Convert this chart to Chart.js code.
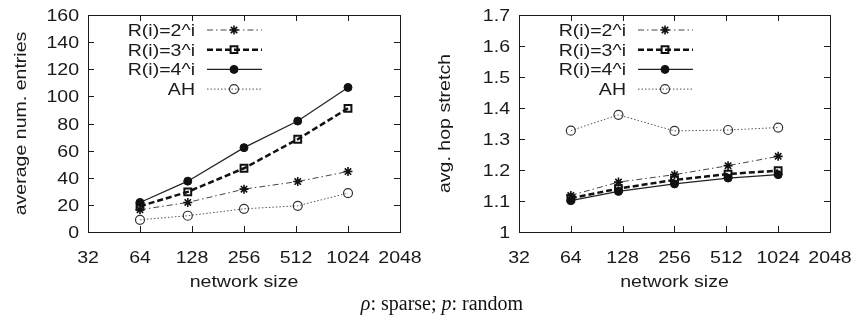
<!DOCTYPE html>
<html>
<head>
<meta charset="utf-8">
<script src="https://cdn.jsdelivr.net/npm/chart.js@4.4.1/dist/chart.umd.min.js"></script>
<style>
    body { margin: 0; background: #fff; width: 856px; height: 325px; position: relative; overflow: hidden; }
    .box { position: absolute; top: 0; width: 428px; height: 300px; }
    #caption { position: absolute; top: 292px; left: 0; width: 884px; text-align: center;
               font: 20px "Liberation Serif", serif; color: #111; }
</style>
</head>
<body>
<div class="box" style="left:0"><canvas id="leftChart" width="428" height="300"></canvas></div>
<div class="box" style="left:428px"><canvas id="rightChart" width="428" height="300"></canvas></div>
<div id="caption"><i>ρ</i>: sparse; <i>p</i>: random</div>

<script>
// =======================================================
// DATA
// =======================================================
const sizes = [64, 121, 256, 524, 1024];
const xTickLabels = ["32", "64", "128", "256", "512", "1024", "2048"];
const seriesLabels = ["R(i)=2^i", "R(i)=3^i", "R(i)=4^i", "AH"];

const entries2 = [16.4, 21.8, 31.6, 37.2, 44.6];
const entries3 = [19.0, 29.6, 47.0, 68.4, 91.2];
const entries4 = [21.8, 37.5, 62.2, 81.8, 106.6];
const entriesAH = [9.0, 12.0, 17.1, 19.3, 28.7];
const entriesTicks = ["0", "20", "40", "60", "80", "100", "120", "140", "160"];

const stretch2 = [1.118, 1.161, 1.185, 1.214, 1.244];
const stretch3 = [1.109, 1.140, 1.168, 1.187, 1.198];
const stretch4 = [1.101, 1.131, 1.155, 1.174, 1.185];
const stretchAH = [1.327, 1.378, 1.326, 1.329, 1.337];
const stretchTicks = ["1", "1.1", "1.2", "1.3", "1.4", "1.5", "1.6", "1.7"];

const FONT = '17px "Liberation Sans", Arial, sans-serif';
const TEXT_STRETCH = 1.15;
const INK = "#1a1a1a";

// line / marker look of each series, in legend order
const styles = [
    { borderColor: "#444", borderWidth: 1, borderDash: [6, 3, 1.5, 3], pointStyle: "star",
      pointRadius: 4.5, pointBorderWidth: 1.6, pointBorderColor: "#111", pointBackgroundColor: "#111" },
    { borderColor: "#111", borderWidth: 2.5, borderDash: [6, 3], pointStyle: "rect",
      pointRadius: 4.8, pointBorderWidth: 2, pointBorderColor: "#111", pointBackgroundColor: "rgba(0,0,0,0)" },
    { borderColor: "#222", borderWidth: 1.2, borderDash: [], pointStyle: "circle",
      pointRadius: 4, pointBorderWidth: 1, pointBorderColor: "#111", pointBackgroundColor: "#111" },
    { borderColor: "#555", borderWidth: 1, borderDash: [1.5, 2], pointStyle: "circle",
      pointRadius: 4.5, pointBorderWidth: 1.2, pointBorderColor: "#333", pointBackgroundColor: "rgba(0,0,0,0)" }
];


// =======================================================
// TEXT HELPER (the original font is wider than Helvetica)
// =======================================================
function drawText(ctx, str, x, y, align, rot) {
    ctx.save();
    ctx.translate(x, y);
    if (rot) ctx.rotate(rot);
    ctx.scale(TEXT_STRETCH, 1);
    ctx.font = FONT;
    ctx.fillStyle = INK;
    ctx.textAlign = align;
    ctx.textBaseline = "alphabetic";
    ctx.fillText(str, 0, 0);
    ctx.restore();
}


// =======================================================
// FRAME, TICKS, LABELS AND LEGEND (gnuplot look)
// =======================================================
const gnuplotFrame = {
    id: "gnuplotFrame",
    beforeDatasetsDraw(chart, args, opts) {
        const { ctx, chartArea: a, scales: { x, y } } = chart;
        ctx.save();
        ctx.strokeStyle = INK;
        ctx.lineWidth = 1;
        ctx.beginPath();
        xTickLabels.forEach(t => {
            const px = Math.round(x.getPixelForValue(+t)) + 0.5;
            ctx.moveTo(px, a.bottom); ctx.lineTo(px, a.bottom - 6);
            ctx.moveTo(px, a.top); ctx.lineTo(px, a.top + 6);
        });
        opts.yTicks.forEach(t => {
            const py = Math.round(y.getPixelForValue(+t)) + 0.5;
            ctx.moveTo(a.left, py); ctx.lineTo(a.left + 6, py);
            ctx.moveTo(a.right, py); ctx.lineTo(a.right - 6, py);
        });
        ctx.stroke();
        ctx.strokeRect(Math.round(a.left) + 0.5, Math.round(a.top) + 0.5,
                       Math.round(a.right - a.left), Math.round(a.bottom - a.top));
        ctx.restore();
    },
    afterDraw(chart, args, opts) {
        const { ctx, chartArea: a, scales: { x, y } } = chart;

        xTickLabels.forEach(t => drawText(ctx, t, x.getPixelForValue(+t), a.bottom + 31, "center"));
        opts.yTicks.forEach(t => drawText(ctx, t, a.left - 9, y.getPixelForValue(+t) + 6, "right"));

        drawText(ctx, "network size", (a.left + a.right) / 2, a.bottom + 55, "center");
        drawText(ctx, opts.yTitle, opts.yTitleX, (a.top + a.bottom) / 2, "center", -Math.PI / 2);

        // legend: right aligned text, line sample with marker
        chart.data.datasets.forEach((ds, i) => {
            const cy = a.top + 15 + i * 19.7;
            drawText(ctx, ds.label, a.left + 107, cy + 6, "right");

            ctx.save();
            ctx.strokeStyle = ds.borderColor;
            ctx.lineWidth = ds.borderWidth;
            ctx.setLineDash(ds.borderDash);
            ctx.beginPath();
            ctx.moveTo(a.left + 119, cy);
            ctx.lineTo(a.left + 174, cy);
            ctx.stroke();
            ctx.setLineDash([]);
            ctx.fillStyle = ds.pointBackgroundColor;
            ctx.strokeStyle = ds.pointBorderColor;
            ctx.lineWidth = ds.pointBorderWidth;
            Chart.helpers.drawPoint(ctx, {
                pointStyle: ds.pointStyle, radius: ds.pointRadius,
                borderWidth: ds.pointBorderWidth, rotation: 0
            }, a.left + 146, cy);
            ctx.restore();
        });
    }
};


// =======================================================
// BUILD ONE PANEL
// =======================================================
function makePanel(canvasId, seriesValues, yTicks, yTitle, yTitleX, padLeft, padRight) {
    const ctx = document.getElementById(canvasId).getContext("2d");

    new Chart(ctx, {
        type: "line",
        data: {
            datasets: seriesValues.map((vals, i) => Object.assign({
                label: seriesLabels[i],
                data: vals.map((v, k) => ({ x: sizes[k], y: v })),
                fill: false,
                tension: 0
            }, styles[i]))
        },
        options: {
            responsive: false,
            animation: false,
            layout: { padding: { left: padLeft, right: padRight, top: 15, bottom: 68 } },
            plugins: {
                legend: { display: false },
                tooltip: { enabled: false },
                gnuplotFrame: { yTicks: yTicks, yTitle: yTitle, yTitleX: yTitleX }
            },
            scales: {
                x: { type: "logarithmic", display: false,
                     min: +xTickLabels[0], max: +xTickLabels[xTickLabels.length - 1] },
                y: { type: "linear", display: false,
                     min: +yTicks[0], max: +yTicks[yTicks.length - 1] }
            }
        },
        plugins: [gnuplotFrame]
    });
}

makePanel("leftChart", [entries2, entries3, entries4, entriesAH], entriesTicks,
          "average num. entries", 26, 88, 28);
makePanel("rightChart", [stretch2, stretch3, stretch4, stretchAH], stretchTicks,
          "avg. hop stretch", 22, 91, 26);
</script>
</body>
</html>
